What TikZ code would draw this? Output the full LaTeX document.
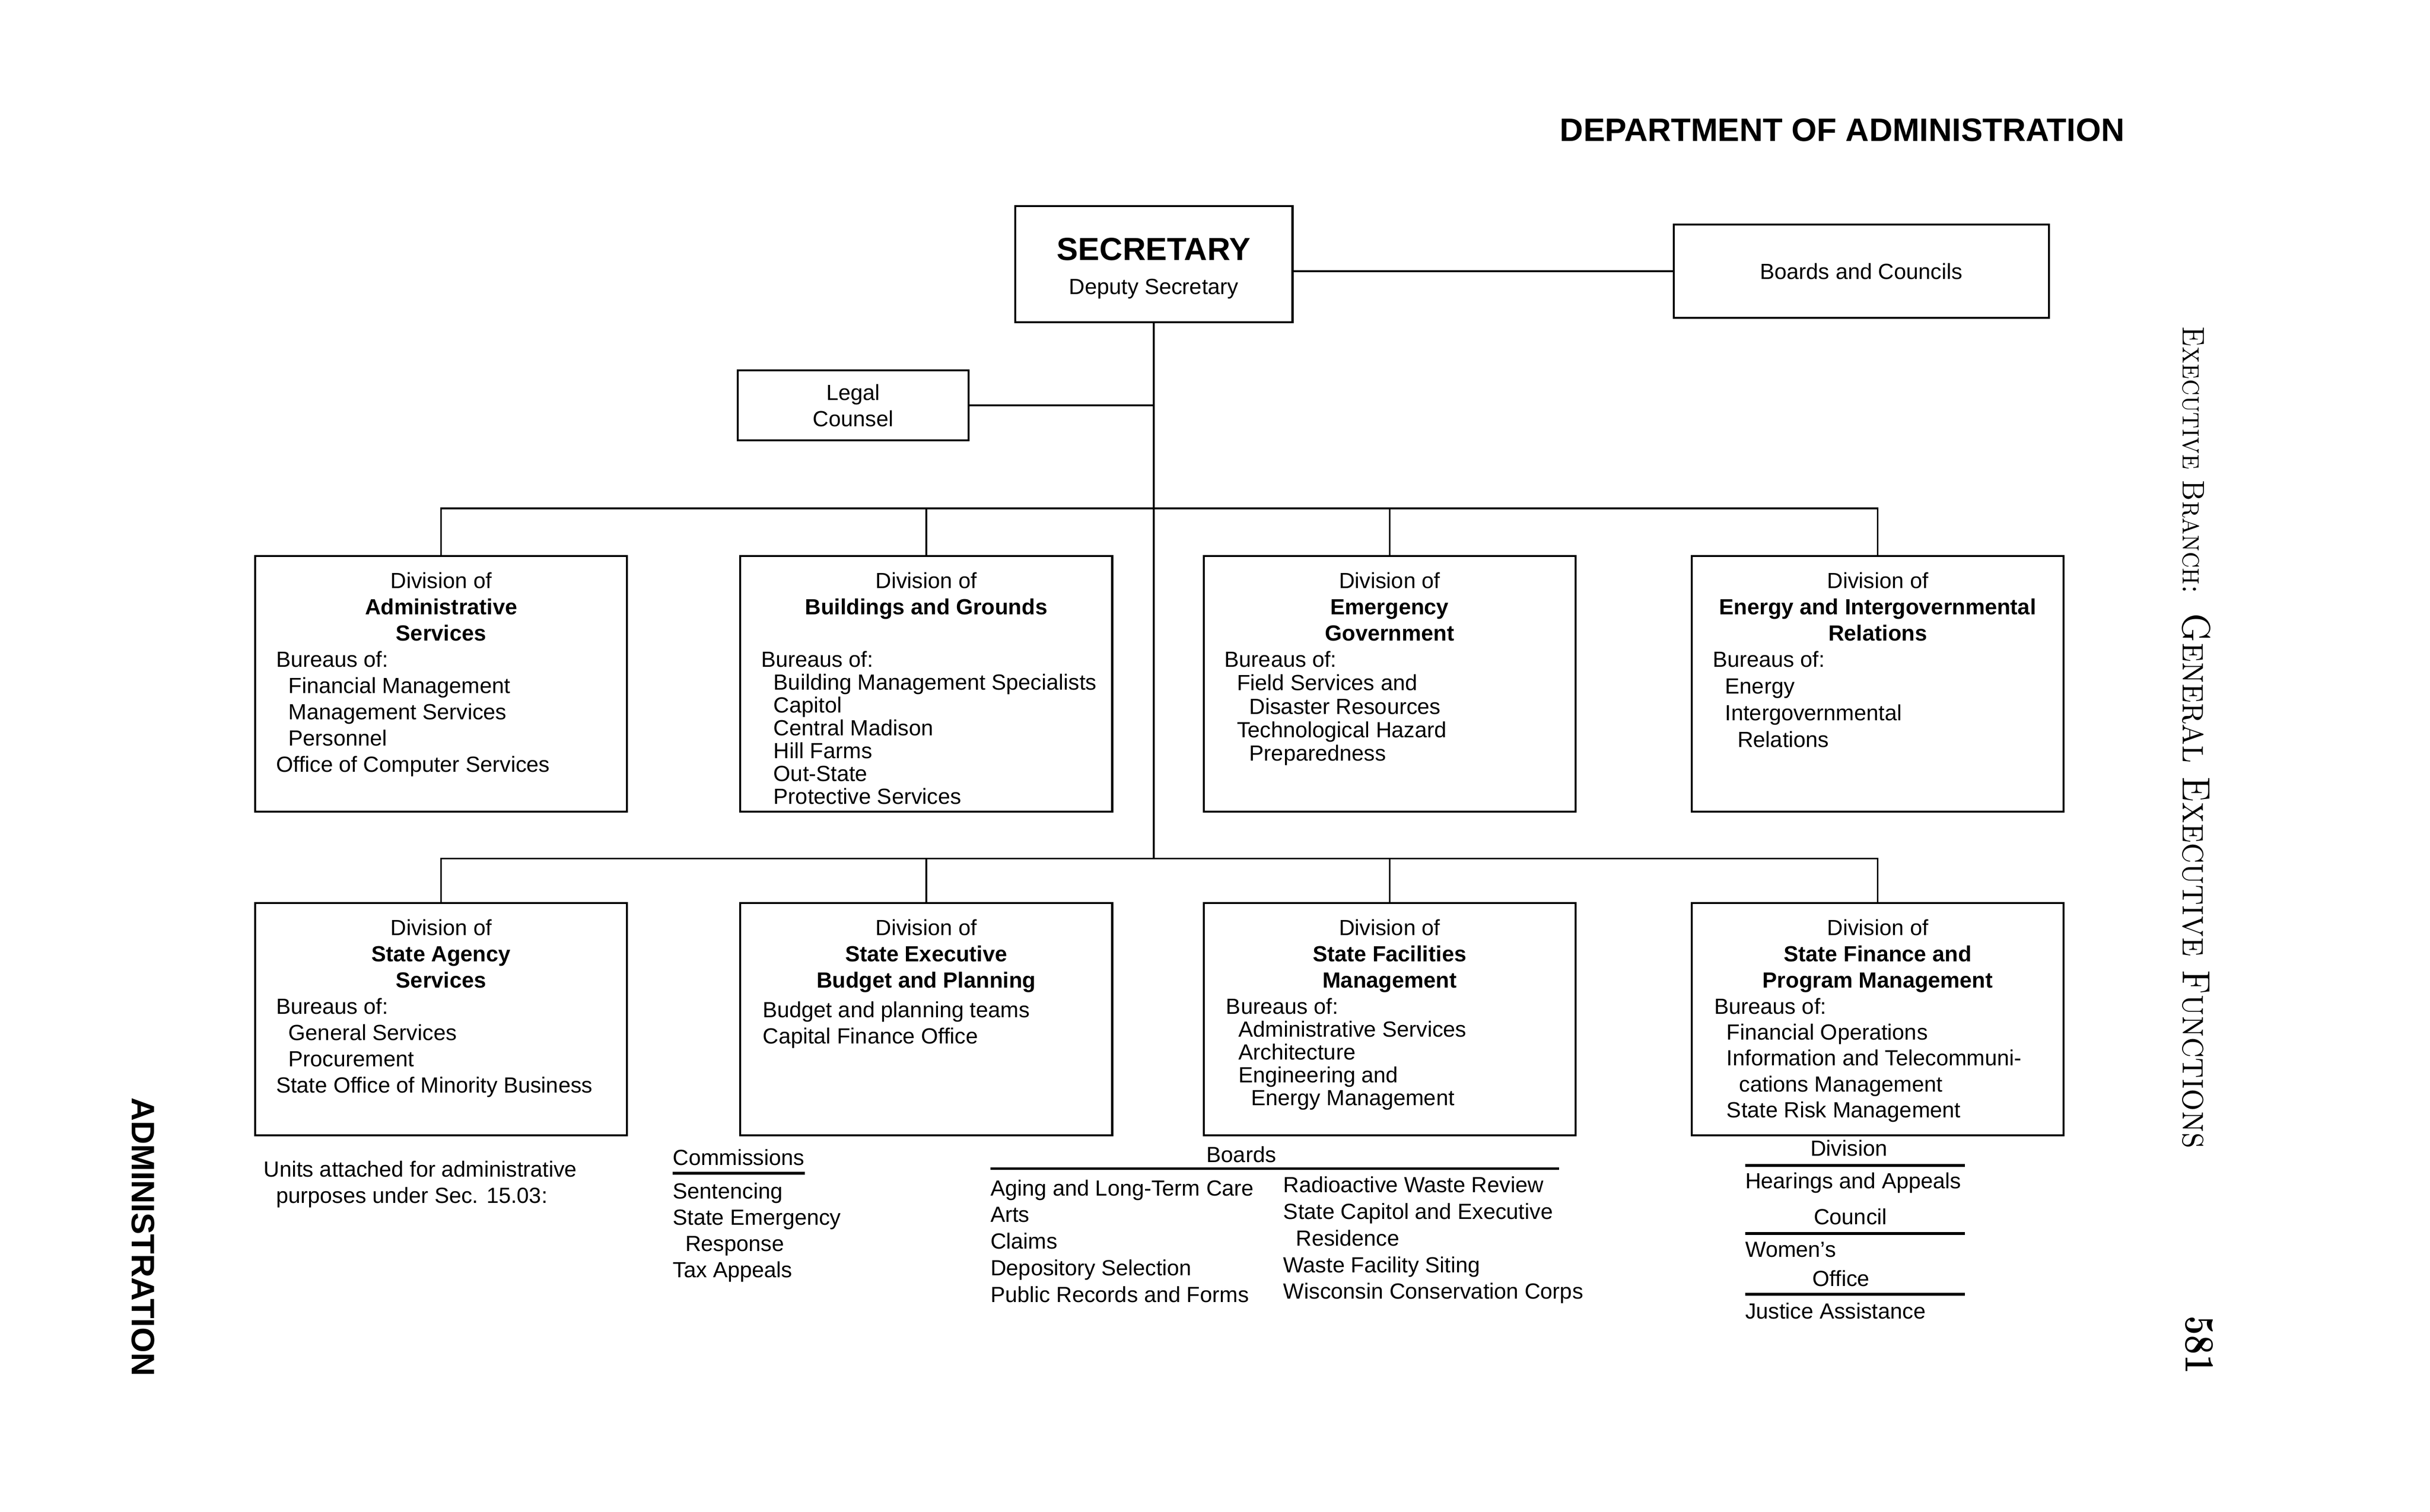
\documentclass[tikz,border=0pt]{standalone}
\usepackage{fontspec}
\setsansfont{Liberation Sans}
\usetikzlibrary{positioning}

\newcommand\indone{\hspace*{8bp}}
\newcommand\indtwo{\hspace*{16bp}}

\tikzset{
  txt/.style={inner sep=0pt, font=\sffamily\fontsize{14.2}{17}\selectfont},
  divbox/.style={draw, line width=1.3bp, minimum width=240bp, minimum height=#1, inner sep=0pt, anchor=north west},
  divhead/.style={txt, anchor=north, align=center},
  bureaus/.style={txt, anchor=north west, align=left, font=\sffamily\fontsize{14.2}{#1}\selectfont},
  bureaus/.default=17,
  conn/.style={line width=1.1bp},
  underrule/.style={line width=1.8bp},
}

\begin{document}
\begin{tikzpicture}[x=1bp, y=-1bp]
  \useasboundingbox (0,0) rectangle (1568,975.6);

  % page heads
  \node[txt, anchor=base east, font=\sffamily\bfseries\fontsize{21}{24}\selectfont] (dept) at (1371,91) {DEPARTMENT OF ADMINISTRATION};
  \node[rotate=-90, anchor=base west, inner sep=0pt, font=\sffamily\bfseries\fontsize{21}{24}\selectfont] (spine) at (85,708) {ADMINISTRATION};
  \node[rotate=-90, xscale=0.885, anchor=base west, inner sep=0pt, font=\rmfamily\fontsize{20.2}{22}\selectfont] (branch) at (1408.5,210.5)
    {\textsc{Executive Branch:}\hspace{14bp}{\fontsize{25.5}{28}\selectfont\textsc{General Executive Functions}}};
  \node[rotate=-90, xscale=0.82, anchor=base west, inner sep=0pt, font=\rmfamily\bfseries\fontsize{27}{28}\selectfont] (page) at (1410.5,849) {581};

  % secretary level
  \node[draw, line width=1.3bp, minimum width=179bp, minimum height=75bp] (sec) at (744.5,170.5) {};
  \node[txt, anchor=base, font=\sffamily\bfseries\fontsize{20.7}{24}\selectfont] (sectitle) at (744.5,168) {SECRETARY};
  \node[txt, anchor=base] (deputy) at (744.5,190) {Deputy Secretary};
  \node[draw, line width=1.3bp, minimum width=242bp, minimum height=60bp, txt] (bc) at (1201,175) {Boards and Councils};
  \node[draw, line width=1.3bp, minimum width=149bp, minimum height=45bp, txt, align=center] (legal) at (550.5,261.5) {Legal\\Counsel};

  \coordinate (bus1) at (745,328);
  \coordinate (bus2) at (745,554);
  \draw[conn] (sec.east |- bc.west) -- (bc.west);
  \draw[conn] (sec.south) -- (sec.south |- bus2);
  \draw[conn] (legal.east) -- (legal.east -| sec.south);

  % first row of divisions
  \node[divbox=165bp] (adm) at (164,358) {};
  \node[divbox=165bp] (bag) at (477,358) {};
  \node[divbox=165bp] (emg) at (776,358) {};
  \node[divbox=165bp] (eir) at (1091,358) {};

  \node[divhead] (admh) at ([yshift=-11bp]adm.north) {Division of\\\textbf{Administrative}\\\textbf{Services}};
  \node[divhead] (bagh) at ([yshift=-11bp]bag.north) {Division of\\\textbf{Buildings and Grounds}};
  \node[divhead] (emgh) at ([yshift=-11bp]emg.north) {Division of\\\textbf{Emergency}\\\textbf{Government}};
  \node[divhead] (eirh) at ([yshift=-11bp]eir.north) {Division of\\\textbf{Energy and Intergovernmental}\\\textbf{Relations}};

  \node[bureaus] (adml) at ([xshift=14bp, yshift=-62bp]adm.north west)
    {Bureaus of:\\\indone Financial Management\\\indone Management Services\\\indone Personnel\\Office of Computer Services};
  \node[bureaus=14.8] (bagl) at ([xshift=14bp, yshift=-62bp]bag.north west)
    {Bureaus of:\\\indone Building Management Specialists\\\indone Capitol\\\indone Central Madison\\\indone Hill Farms\\\indone Out-State\\\indone Protective Services};
  \node[bureaus=15.2] (emgl) at ([xshift=14bp, yshift=-62bp]emg.north west)
    {Bureaus of:\\\indone Field Services and\\\indtwo Disaster Resources\\\indone Technological Hazard\\\indtwo Preparedness};
  \node[bureaus=17.3] (eirl) at ([xshift=14bp, yshift=-62bp]eir.north west)
    {Bureaus of:\\\indone Energy\\\indone Intergovernmental\\\indtwo Relations};

  \draw[conn] (adm.north) |- (bus1) -| (eir.north);
  \draw[conn] (bag.north) -- (bag.north |- bus1);
  \draw[conn] (emg.north) -- (emg.north |- bus1);

  % second row of divisions
  \node[divbox=150bp] (sas) at (164,582) {};
  \node[divbox=150bp] (seb) at (477,582) {};
  \node[divbox=150bp] (sfm) at (776,582) {};
  \node[divbox=150bp] (sfp) at (1091,582) {};

  \node[divhead] (sash) at ([yshift=-11bp]sas.north) {Division of\\\textbf{State Agency}\\\textbf{Services}};
  \node[divhead] (sebh) at ([yshift=-11bp]seb.north) {Division of\\\textbf{State Executive}\\\textbf{Budget and Planning}};
  \node[divhead] (sfmh) at ([yshift=-11bp]sfm.north) {Division of\\\textbf{State Facilities}\\\textbf{Management}};
  \node[divhead] (sfph) at ([yshift=-11bp]sfp.north) {Division of\\\textbf{State Finance and}\\\textbf{Program Management}};

  \node[bureaus] (sasl) at ([xshift=14bp, yshift=-62bp]sas.north west)
    {Bureaus of:\\\indone General Services\\\indone Procurement\\State Office of Minority Business};
  \node[bureaus] (sebl) at ([xshift=15bp, yshift=-64bp]seb.north west)
    {Budget and planning teams\\Capital Finance Office};
  \node[bureaus=14.8] (sfml) at ([xshift=15bp, yshift=-62bp]sfm.north west)
    {Bureaus of:\\\indone Administrative Services\\\indone Architecture\\\indone Engineering and\\\indtwo Energy Management};
  \node[bureaus=16.7] (sfpl) at ([xshift=15bp, yshift=-62bp]sfp.north west)
    {Bureaus of:\\\indone Financial Operations\\\indone Information and Telecommuni-\\\indtwo cations Management\\\indone State Risk Management};

  \draw[conn] (sas.north) |- (bus2) -| (sfp.north);
  \draw[conn] (seb.north) -- (seb.north |- bus2);
  \draw[conn] (sfm.north) -- (sfm.north |- bus2);

  % attached units
  \node[bureaus] (units) at (170,749) {Units attached for administrative\\\indone purposes under Sec. 15.03:};

  \node[txt, anchor=base west] (comm) at (434,752) {Commissions};
  \draw[underrule] ([yshift=-5bp]comm.base west) -- ([yshift=-5bp]comm.base east);
  \node[bureaus] (comml) at (434,763) {Sentencing\\State Emergency\\\indone Response\\Tax Appeals};

  \node[txt, anchor=base] (boards) at (801,750) {Boards};
  \node[bureaus=17.25] (boardsa) at (639,761)
    {Aging and Long-Term Care\\Arts\\Claims\\Depository Selection\\Public Records and Forms};
  \node[bureaus=17.25] (boardsb) at (828,759)
    {Radioactive Waste Review\\State Capitol and Executive\\\indone Residence\\Waste Facility Siting\\Wisconsin Conservation Corps};
  \draw[underrule] ([yshift=7bp]boardsa.north west) -- ++(367,0);

  \node[txt, anchor=base] (divn) at (1193,746) {Division};
  \node[txt, anchor=base west] (hear) at (1126,767) {Hearings and Appeals};
  \draw[underrule] ([yshift=15bp]hear.base west) -- ++(142,0);
  \node[txt, anchor=base] (coun) at (1194,790) {Council};
  \node[txt, anchor=base west] (women) at (1126,811) {Women's};
  \draw[underrule] ([yshift=15bp]women.base west) -- ++(142,0);
  \node[txt, anchor=base] (offc) at (1188,830) {Office};
  \node[txt, anchor=base west] (justice) at (1126,851) {Justice Assistance};
  \draw[underrule] ([yshift=16bp]justice.base west) -- ++(142,0);
\end{tikzpicture}
\end{document}
